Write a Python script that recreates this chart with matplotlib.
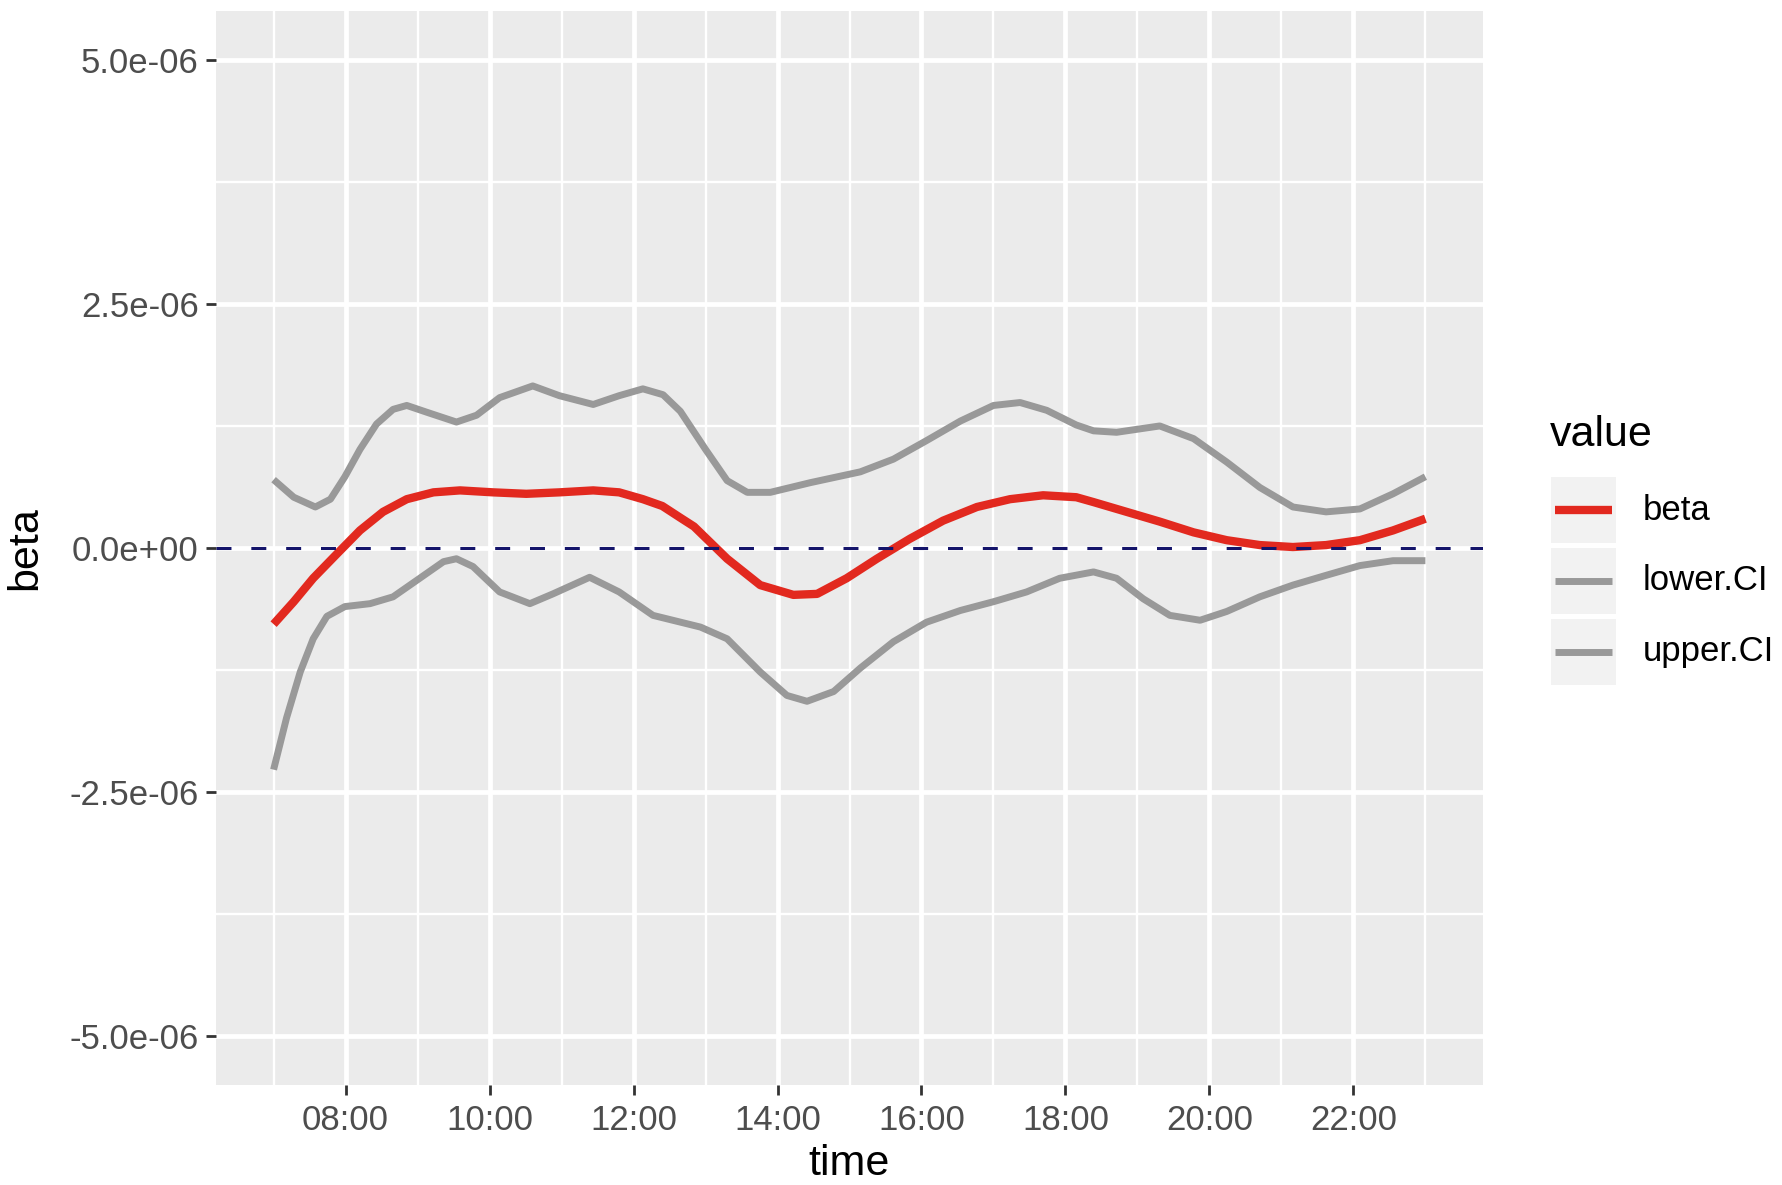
import matplotlib
matplotlib.use("Agg")
import matplotlib.pyplot as plt
from matplotlib.patches import Rectangle
from matplotlib.lines import Line2D

plt.rcParams['font.family'] = ['Liberation Sans', 'DejaVu Sans']

# ---- data (values in units of 1e-6, time in hours) ----
beta_t = [7.0, 7.28, 7.55, 7.88, 8.2, 8.52, 8.85, 9.22, 9.59, 10.05, 10.51, 10.97, 11.44,
          11.8, 12.13, 12.4, 12.65, 12.84, 13.3, 13.76, 14.22, 14.55, 14.96, 15.38, 15.84,
          16.3, 16.77, 17.23, 17.69, 18.15, 18.39, 18.85, 19.31, 19.78, 20.24, 20.7, 21.16,
          21.62, 22.09, 22.55, 23.0]
beta_v = [-0.78, -0.55, -0.31, -0.06, 0.18, 0.37, 0.50, 0.57, 0.59, 0.57, 0.555, 0.57, 0.59,
          0.57, 0.50, 0.43, 0.31, 0.22, -0.11, -0.38, -0.48, -0.47, -0.31, -0.11, 0.095,
          0.28, 0.42, 0.50, 0.54, 0.52, 0.47, 0.37, 0.27, 0.16, 0.08, 0.03, 0.01,
          0.03, 0.08, 0.18, 0.30]

upper_t = [7.0, 7.28, 7.58, 7.79, 7.99, 8.2, 8.43, 8.66, 8.85, 9.13, 9.54, 9.82, 10.14, 10.6,
           10.97, 11.44, 11.8, 12.13, 12.41, 12.65, 13.0, 13.3, 13.58, 13.9, 14.46, 15.15,
           15.61, 16.07, 16.54, 17.0, 17.37, 17.74, 18.15, 18.39, 18.71, 19.31, 19.78, 20.24,
           20.7, 21.16, 21.62, 22.09, 22.55, 23.0]
upper_v = [0.70, 0.52, 0.42, 0.50, 0.73, 1.01, 1.27, 1.42, 1.46, 1.39, 1.29, 1.36, 1.54, 1.66,
           1.56, 1.47, 1.56, 1.63, 1.57, 1.40, 1.01, 0.69, 0.57, 0.57, 0.67, 0.78,
           0.91, 1.10, 1.30, 1.46, 1.49, 1.41, 1.26, 1.20, 1.185, 1.25, 1.12, 0.88,
           0.62, 0.42, 0.37, 0.40, 0.555, 0.73]

lower_t = [7.0, 7.18, 7.37, 7.55, 7.74, 7.99, 8.34, 8.66, 9.03, 9.36, 9.54, 9.77, 10.14, 10.56,
           10.88, 11.39, 11.8, 12.27, 12.93, 13.3, 13.76, 14.13, 14.41, 14.78, 15.15, 15.61,
           16.07, 16.54, 17.0, 17.46, 17.92, 18.39, 18.71, 19.08, 19.45, 19.87, 20.24, 20.7,
           21.16, 21.62, 22.09, 22.55, 23.0]
lower_v = [-2.27, -1.74, -1.27, -0.93, -0.70, -0.60, -0.57, -0.50, -0.31, -0.14, -0.11, -0.19, -0.45, -0.57,
           -0.47, -0.30, -0.45, -0.69, -0.81, -0.93, -1.27, -1.51, -1.57, -1.47, -1.23, -0.96,
           -0.76, -0.64, -0.55, -0.45, -0.31, -0.245, -0.31, -0.52, -0.69, -0.74, -0.65, -0.50,
           -0.38, -0.28, -0.18, -0.13, -0.13]

x_ticks = [8, 10, 12, 14, 16, 18, 20, 22]
x_ticklabels = ["08:00", "10:00", "12:00", "14:00", "16:00", "18:00", "20:00", "22:00"]
y_ticks = [5.0e-06, 2.5e-06, 0.0, -2.5e-06, -5.0e-06]
y_ticklabels = ["5.0e-06", "2.5e-06", "0.0e+00", "-2.5e-06", "-5.0e-06"]
series_names = ["beta", "lower.CI", "upper.CI"]

SCALE = 1e-6
RED = "#E2291F"
GREY = "#999999"
LW_RED = 6.0
LW_GREY = 5.0

W, H = 1782, 1185
fig = plt.figure(figsize=(W / 100, H / 100), dpi=100)
fig.patch.set_facecolor("white")

def fx(px):
    return px / W

def fy(py):
    return 1 - py / H

L, R, T, B = 216, 1483, 11, 1085
ax = fig.add_axes([fx(L), fy(B), (R - L) / W, (B - T) / H])
ax.set_facecolor("#EBEBEB")
for s in ax.spines.values():
    s.set_visible(False)

ax.set_xlim(6.2, 23.8)
ax.set_ylim(-5.5e-6, 5.5e-6)

ax.set_xticks(x_ticks)
ax.set_xticklabels(x_ticklabels)
ax.set_xticks([7, 9, 11, 13, 15, 17, 19, 21, 23], minor=True)
ax.set_yticks(y_ticks)
ax.set_yticklabels(y_ticklabels)
ax.set_yticks([3.75e-6, 1.25e-6, -1.25e-6, -3.75e-6], minor=True)

ax.grid(which="major", color="white", linewidth=3.4)
ax.grid(which="minor", color="white", linewidth=1.7)
ax.set_axisbelow(True)

ax.tick_params(which="major", length=7.5, width=2.0, color="#333333",
               labelsize=25, labelcolor="#4D4D4D", pad=5)
ax.tick_params(axis="x", which="major", pad=6)
ax.tick_params(which="minor", length=0)

ax.plot(beta_t, [v * SCALE for v in beta_v], color=RED, lw=LW_RED,
        solid_capstyle="butt", solid_joinstyle="round", zorder=3)
ax.plot(lower_t, [v * SCALE for v in lower_v], color=GREY, lw=LW_GREY,
        solid_capstyle="butt", solid_joinstyle="round", zorder=2)
ax.plot(upper_t, [v * SCALE for v in upper_v], color=GREY, lw=LW_GREY,
        solid_capstyle="butt", solid_joinstyle="round", zorder=2)
ax.axhline(0.0, color="#14146A", lw=2.2, dashes=(4.9, 6.5), zorder=4)

ax.set_xlabel("time", fontsize=31, color="black")
ax.set_ylabel("beta", fontsize=31, color="black")
ax.xaxis.set_label_coords(0.5, (B - 1175) / (B - T))
ax.xaxis.label.set_va("baseline")
ax.yaxis.set_label_coords((25 - L) / (R - L), 0.5)
ax.yaxis.label.set_va("center")
ax.yaxis.label.set_ha("center")

# ---- legend (ggplot style) ----
fig.text(fx(1550), fy(435), "value", fontsize=31, color="black", ha="left", va="center")
key_colors = [RED, GREY, GREY]
key_lw = [LW_RED, LW_GREY, LW_GREY]
key_centers = [510, 581, 652]
for name, col, lw, cy in zip(series_names, key_colors, key_lw, key_centers):
    fig.add_artist(Rectangle((fx(1551), fy(cy + 33)), 65 / W, 66 / H,
                             transform=fig.transFigure, facecolor="#F2F2F2",
                             edgecolor="white", lw=0))
    fig.add_artist(Line2D([fx(1555), fx(1612)], [fy(cy), fy(cy)],
                          transform=fig.transFigure, color=col, lw=lw,
                          solid_capstyle="butt"))
    fig.text(fx(1643), fy(cy), name, fontsize=25, color="black", ha="left", va="center")

fig.savefig("out.png", dpi=100)
